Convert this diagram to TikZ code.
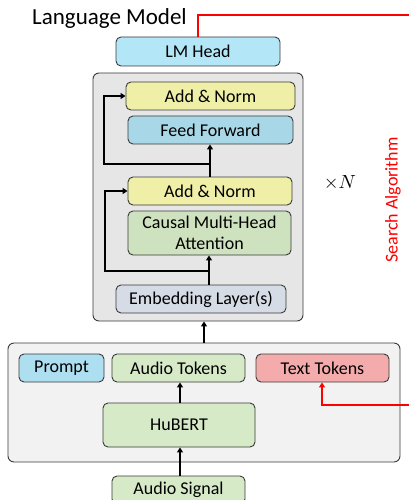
\documentclass[tikz,border=0pt]{standalone}
\usepackage{fontspec}
\setmainfont{Carlito}
\usetikzlibrary{arrows.meta,calc}
\definecolor{lmhead}{HTML}{B3E6F7}
\definecolor{bigbg}{HTML}{E6E6E6}
\definecolor{lowbg}{HTML}{F2F2F2}
\definecolor{addnorm}{HTML}{EFEFA8}
\definecolor{ffcol}{HTML}{A8D8E8}
\definecolor{attcol}{HTML}{CFE2BF}
\definecolor{embcol}{HTML}{D6DCE5}
\definecolor{promptcol}{HTML}{ADDFF0}
\definecolor{greencol}{HTML}{D6EAC8}
\definecolor{textcol}{HTML}{F4ABAB}
\definecolor{bordercol}{HTML}{3A3A3A}
\definecolor{searchred}{HTML}{FF0000}
\tikzset{
  blockbox/.style={draw=bordercol, line width=0.9pt, rounded corners=5pt, inner sep=0pt,
    align=center, font=\fontsize{18}{21.5}\selectfont},
  panel/.style={draw=bordercol, line width=0.9pt, rounded corners=6pt, inner sep=0pt},
  arr/.style={line width=1.8pt, -{Triangle[length=5pt,width=6pt]}},
  redarr/.style={line width=1.8pt, draw=searchred, -{Triangle[length=5pt,width=6pt]}},
  redline/.style={line width=1.8pt, draw=searchred},
}
\begin{document}
\begin{tikzpicture}[x=1pt,y=-1pt]
\useasboundingbox (0,0) rectangle (409,500);
% panels
\node[panel, fill=bigbg, minimum width=210pt, minimum height=248pt] (big) at (198,197) {};
\node[panel, fill=lowbg, minimum width=392pt, minimum height=119pt] (low) at (204,402.5) {};
% title
\node[anchor=base west, inner sep=0pt, font=\fontsize{23}{26}\selectfont] (title) at (32,25) {Language Model};
% blocks
\node[blockbox, fill=lmhead, minimum width=164pt, minimum height=29pt] (lm) at (198,51.5) {LM Head};
\node[blockbox, fill=addnorm, minimum width=169pt, minimum height=28pt] (an1) at (210.5,96) {Add \& Norm};
\node[blockbox, fill=ffcol, minimum width=165pt, minimum height=28pt] (ff) at (210.5,130) {Feed Forward};
\node[blockbox, fill=addnorm, minimum width=164pt, minimum height=28pt] (an2) at (210,191) {Add \& Norm};
\node[blockbox, fill=attcol, minimum width=163pt, minimum height=44pt] (att) at (209.5,233) {Causal Multi-Head\\Attention};
\node[blockbox, fill=embcol, minimum width=170pt, minimum height=28pt] (emb) at (201,299) {Embedding Layer(s)};
\node[blockbox, fill=promptcol, minimum width=85pt, minimum height=28pt] (prompt) at (61.5,368) {Prompt};
\node[blockbox, fill=greencol, minimum width=133pt, minimum height=28pt] (atok) at (178.5,368) {Audio Tokens};
\node[blockbox, fill=textcol, minimum width=133pt, minimum height=28pt] (ttok) at (322.5,368) {Text Tokens};
\node[blockbox, fill=greencol, minimum width=152pt, minimum height=44pt] (hubert) at (179,425) {HuBERT};
\node[blockbox, fill=greencol, minimum width=133pt, minimum height=28pt] (asig) at (178.5,490) {Audio Signal};
% xN
\node[inner sep=0pt] (times) at (340,183) {\scalebox{1.9}{$\times N$}};
% search algorithm
\node[inner sep=0pt, rotate=90, text=searchred, font=\fontsize{18}{21}\selectfont] (search) at (393,200) {Search Algorithm};
% coordinates
\coordinate (b1) at (210,164);
\coordinate (r1) at (104,164);
\coordinate (b2) at (209,271);
\coordinate (r2) at (105,271);
\coordinate (lowtop) at (204,343);
\coordinate (hx) at (180,0);
\coordinate (redtop) at (198,15);
\coordinate (redright) at (415,15);
\coordinate (redin) at (415,405);
\coordinate (redturn) at (322,405);
% black connectors
\draw[arr] (an2.north -| b1) -- (b1 |- ff.south);
\draw[arr] (b1) -- (r1) |- (an1.west);
\draw[arr] (b2 |- emb.north) -- (b2 |- att.south);
\draw[arr] (b2) -- (r2) |- (an2.west);
\draw[arr] (lowtop) -- (lowtop |- big.south);
\draw[arr] (hx |- hubert.north) -- (hx |- atok.south);
\draw[arr] (hx |- asig.north) -- (hx |- hubert.south);
% red connectors
\draw[redline] (redtop |- lm.north) -- (redtop) -- (redright);
\draw[redarr] (redin) -- (redturn) -- (redturn |- ttok.south);
\end{tikzpicture}
\end{document}
